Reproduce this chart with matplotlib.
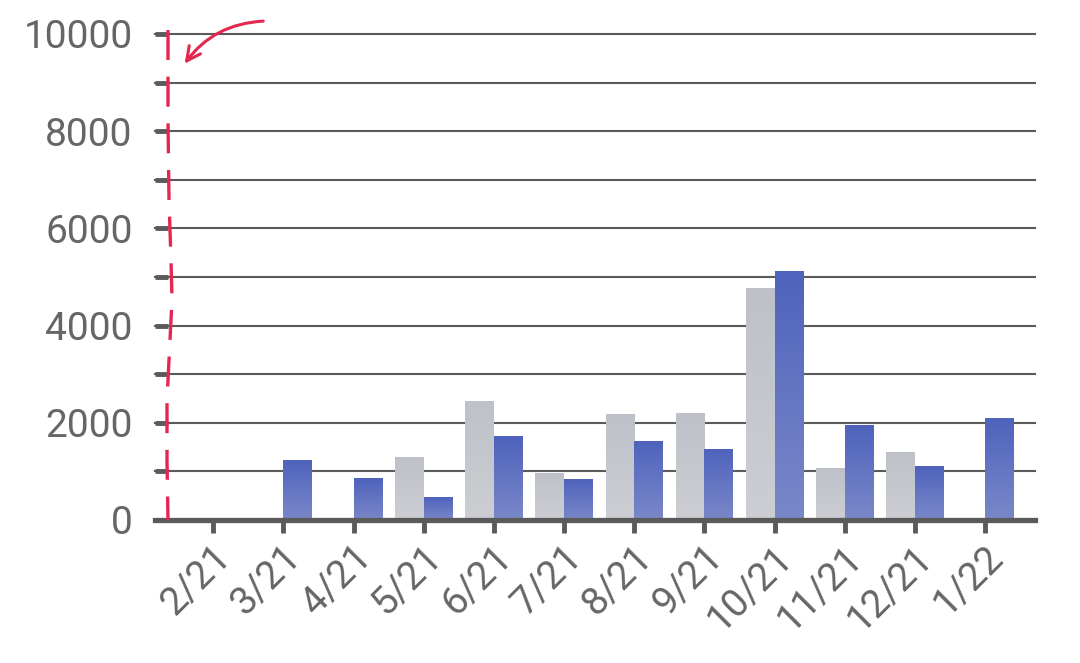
import numpy as np
import matplotlib
matplotlib.use('Agg')
import matplotlib.pyplot as plt
from matplotlib.lines import Line2D
from matplotlib.colors import LinearSegmentedColormap
from matplotlib.transforms import ScaledTranslation

# monthly values
months = ['2/21', '3/21', '4/21', '5/21', '6/21', '7/21', '8/21', '9/21',
          '10/21', '11/21', '12/21', '1/22']
gray_vals = [0, 0, 0, 1290, 2440, 965, 2165, 2195, 4770, 1055, 1380, 0]
blue_vals = [0, 1220, 850, 460, 1715, 840, 1605, 1445, 5120, 1950, 1105, 2090]
y_ticks = [0, 2000, 4000, 6000, 8000, 10000]

plt.rcParams['font.family'] = ['Roboto', 'DejaVu Sans']

W, H = 1080, 663
fig = plt.figure(figsize=(W / 100, H / 100), dpi=100)
ax = fig.add_axes([155 / W, 1 - 520 / H, 880 / W, 486 / H])

blue_cmap = LinearSegmentedColormap.from_list('b', ['#7a88c9', '#4f63bc'])
gray_cmap = LinearSegmentedColormap.from_list('g', ['#ccced3', '#bec1c8'])
grad = np.linspace(0, 1, 64).reshape(-1, 1)

x = np.arange(len(months))
bw = 0.41


def grad_bars(xs, vals, cmap):
    for xi, v in zip(xs, vals):
        if v <= 0:
            continue
        ax.imshow(grad, extent=[xi, xi + bw, 0, v], origin='lower',
                  cmap=cmap, aspect='auto', zorder=3, interpolation='bicubic')


for yv in range(1000, 10001, 1000):
    ax.axhline(yv, color='#5a5a5a', lw=1.5, zorder=1, clip_on=False)

grad_bars(x - bw, gray_vals, gray_cmap)
grad_bars(x, blue_vals, blue_cmap)

ax.set_xlim(-0.83, 11.71)
ax.set_ylim(0, 10000)

for s in ['top', 'right', 'left']:
    ax.spines[s].set_visible(False)
ax.spines['bottom'].set_color('#5a5a5a')
ax.spines['bottom'].set_linewidth(3.8)
ax.spines['bottom'].set_zorder(4)

ax.set_yticks(range(0, 10001, 1000))
ax.set_yticklabels([str(v) if v in y_ticks else '' for v in range(0, 10001, 1000)])
ax.tick_params(axis='y', direction='in', length=9, width=3.5, color='#5a5a5a',
               labelsize=28, labelcolor='#666666', pad=16)

ax.set_xticks(x)
ax.set_xticklabels(months, rotation=45, ha='right', va='center',
                   rotation_mode='anchor')
ax.tick_params(axis='x', direction='out', length=9, width=3.5, color='#5a5a5a',
               labelsize=28, labelcolor='#666666', pad=14)
shift = ScaledTranslation(12 / 100, 0, fig.dpi_scale_trans)
for lab in ax.get_xticklabels():
    lab.set_transform(lab.get_transform() + shift)

# hand-drawn red annotation
red = '#e5264f'
xs_px = [168, 168, 169, 171, 172, 170, 167, 167, 168]
ys_px = [30, 120, 200, 260, 300, 340, 400, 460, 520]
fig.add_artist(Line2D([v / W for v in xs_px], [1 - v / H for v in ys_px],
                      transform=fig.transFigure, color=red, lw=2.4,
                      linestyle=(0, (9, 5))))
ax.annotate('', xy=(183, H - 66), xycoords='figure pixels',
            xytext=(266, H - 21), textcoords='figure pixels',
            arrowprops=dict(arrowstyle='->,head_length=1.0,head_width=0.5',
                            color=red, lw=2.2,
                            connectionstyle='arc3,rad=0.25'))

fig.savefig('out.png', dpi=100)
